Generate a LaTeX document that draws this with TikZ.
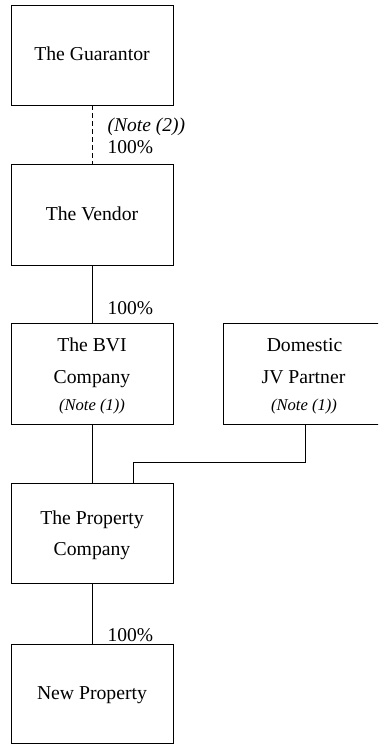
\documentclass[tikz,border=0pt]{standalone}
\usepackage{fontspec}
\setmainfont{Liberation Serif}
\begin{document}
\begin{tikzpicture}[x=1pt,y=-1pt,
  box/.style={draw, line width=0.9pt, minimum width=162pt, minimum height=100pt, inner sep=0pt},
  txt/.style={anchor=base, inner sep=0pt, font=\fontsize{19.7}{24}\selectfont},
  innote/.style={anchor=base, inner sep=0pt, font=\fontsize{16.6}{20}\selectfont\itshape},
  lbl/.style={anchor=base west, inner sep=0pt, font=\fontsize{19.5}{22}\selectfont},
  conn/.style={line width=0.9pt}]
\path[clip] (0,0) rectangle (378,744);
% boxes
\node[box, minimum height=100pt] (G) at (92,55) {};
\node[box, minimum height=100.5pt] (V) at (92,214.75) {};
\node[box, minimum height=100.5pt] (B) at (92,373.75) {};
\node[box, minimum width=160pt, minimum height=100.5pt] (D) at (303,373.75) {};
\node[box, minimum height=100pt] (P) at (92,533) {};
\node[box, minimum height=99pt] (N) at (92,693.5) {};
% texts
\node[txt] (Gt) at (92,60) {The Guarantor};
\node[txt] (Vt) at (92,220) {The Vendor};
\node[txt] (Bt1) at (92,351.5) {The BVI};
\node[txt] (Bt2) at (92,383.3) {Company};
\node[innote] (Bt3) at (92,410) {(Note (1))};
\node[txt] (Dt1) at (304.5,351.5) {Domestic};
\node[txt] (Dt2) at (303.5,383.3) {JV Partner};
\node[innote] (Dt3) at (304,410) {(Note (1))};
\node[txt] (Pt1) at (92,524.5) {The Property};
\node[txt] (Pt2) at (92,555) {Company};
\node[txt] (Nt) at (92,699.3) {New Property};
% connectors
\coordinate (j1) at (305,462);
\coordinate (j2) at (133,462);
\draw[conn, dash pattern=on 5pt off 3pt] (G) -- (V);
\draw[conn] (V) -- (B);
\draw[conn] (B) -- (P);
\draw[conn] (D.south -| j1) -- (j1) -- (j2) -- (j2 |- P.north);
\draw[conn] (P) -- (N);
% labels
\node[lbl, font=\fontsize{19.5}{22}\selectfont\itshape] (n2) at (107.5,131.5) {(Note (2))};
\node[lbl] (p1) at (107.5,153.5) {100\%};
\node[lbl] (p2) at (107.5,314.5) {100\%};
\node[lbl] (p3) at (107.5,641) {100\%};
\end{tikzpicture}
\end{document}
